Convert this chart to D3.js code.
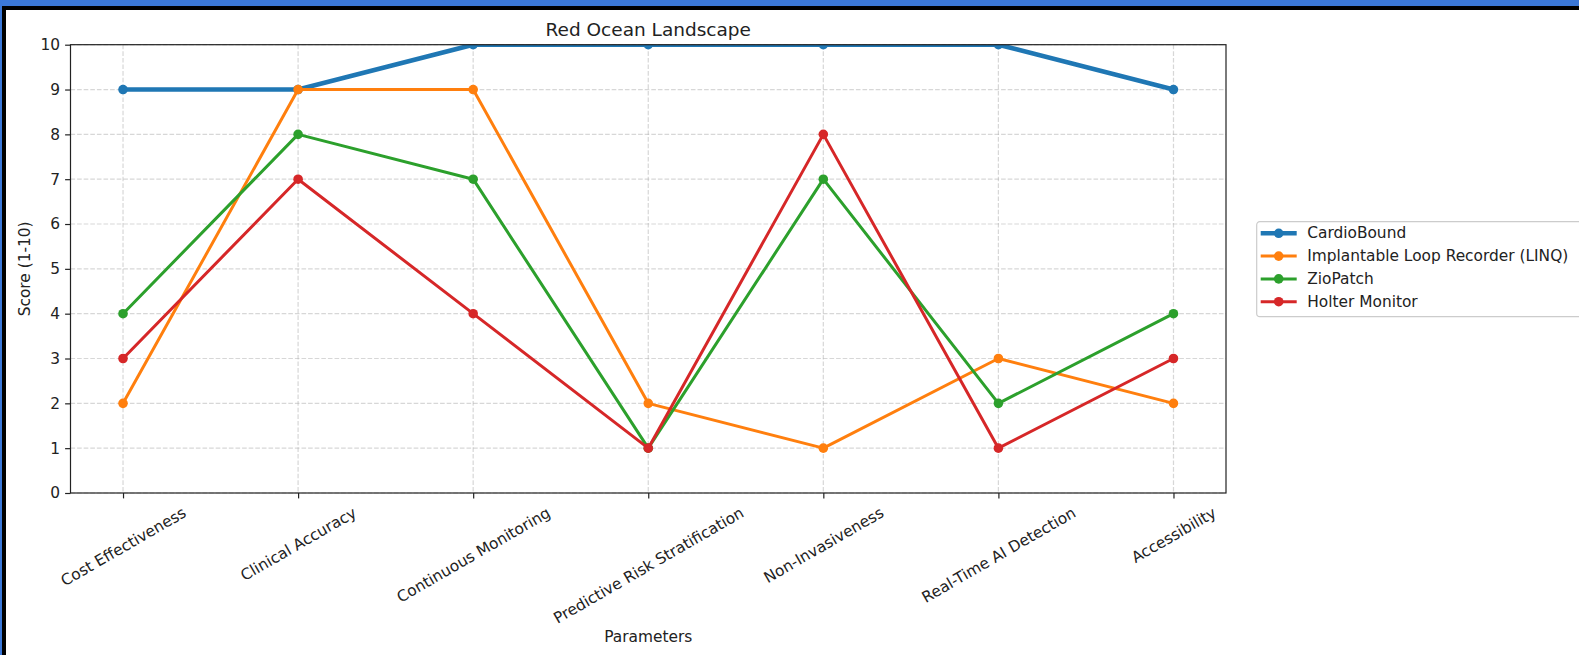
<!DOCTYPE html>
<html>
<head>
<meta charset="utf-8">
<script src="https://cdn.jsdelivr.net/npm/d3@7"></script>
<style>
  body { margin: 0; background: #fff; }
  svg { display: block; font-family: "DejaVu Sans", sans-serif; }
</style>
</head>
<body>
<svg id="target"></svg>
<script>
// Chart data
let categories = ["Cost Effectiveness", "Clinical Accuracy", "Continuous Monitoring",
    "Predictive Risk Stratification", "Non-Invasiveness", "Real-Time AI Detection", "Accessibility"];
let seriesNames = ["CardioBound", "Implantable Loop Recorder (LINQ)", "ZioPatch", "Holter Monitor"];
let cardioBound = [9, 9, 10, 10, 10, 10, 9];
let linq = [2, 9, 9, 2, 1, 3, 2];
let zioPatch = [4, 8, 7, 1, 7, 2, 4];
let holter = [3, 7, 4, 1, 8, 1, 3];
let yTicks = [0, 1, 2, 3, 4, 5, 6, 7, 8, 9, 10];

let colors = ["#1f77b4", "#ff7f0e", "#2ca02c", "#d62728"];
let lineWidths = [4.6, 3, 3, 3];

let W = 1579, H = 655;
let plot = {left: 70.5, right: 1226, top: 44.7, bottom: 493};

function main() {
    let svg = d3.select("#target").attr("width", W).attr("height", H);

    // Page frame: blue band with a black inner edge
    svg.append("rect").attr("width", W).attr("height", H).attr("fill", "#fff");
    svg.append("rect").attr("x", 0).attr("y", 0).attr("width", W).attr("height", 10).attr("fill", "#000");
    svg.append("rect").attr("x", 0).attr("y", 0).attr("width", 6).attr("height", H).attr("fill", "#000");
    svg.append("rect").attr("x", 0).attr("y", 0).attr("width", W).attr("height", 6).attr("fill", "#3b78d8");
    svg.append("rect").attr("x", 0).attr("y", 0).attr("width", 2).attr("height", H).attr("fill", "#3b78d8");

    let x = d3.scalePoint()
        .domain(categories)
        .range([plot.left, plot.right])
        .padding(0.3);

    let y = d3.scaleLinear()
        .domain([0, 10])
        .range([plot.bottom, plot.top]);

    // Grid
    let grid = svg.append("g")
        .attr("stroke", "#b0b0b0")
        .attr("stroke-opacity", 0.5)
        .attr("stroke-width", 1.2)
        .attr("stroke-dasharray", "4.6,2");
    grid.selectAll(".gx").data(categories).enter().append("line")
        .attr("x1", d => x(d)).attr("x2", d => x(d))
        .attr("y1", plot.top).attr("y2", plot.bottom);
    grid.selectAll(".gy").data(yTicks).enter().append("line")
        .attr("x1", plot.left).attr("x2", plot.right)
        .attr("y1", d => y(d)).attr("y2", d => y(d));

    // Lines clipped to the axes area
    svg.append("clipPath").attr("id", "clip")
        .append("rect")
        .attr("x", plot.left).attr("y", plot.top)
        .attr("width", plot.right - plot.left).attr("height", plot.bottom - plot.top);

    let allSeries = [cardioBound, linq, zioPatch, holter];
    let line = d3.line()
        .x((d, i) => x(categories[i]))
        .y(d => y(d));

    let lines = svg.append("g").attr("clip-path", "url(#clip)");
    allSeries.forEach((vals, s) => {
        lines.append("path")
            .attr("d", line(vals))
            .attr("fill", "none")
            .attr("stroke", colors[s])
            .attr("stroke-width", lineWidths[s])
            .attr("stroke-linejoin", "round")
            .attr("stroke-linecap", "round");
        lines.selectAll(".m" + s).data(vals).enter().append("circle")
            .attr("cx", (d, i) => x(categories[i]))
            .attr("cy", d => y(d))
            .attr("r", 4.8)
            .attr("fill", colors[s]);
    });

    // Y axis
    let yAxis = svg.append("g")
        .attr("transform", "translate(" + plot.left + ",0)")
        .call(d3.axisLeft(y).tickValues(yTicks).tickSize(5.4).tickPadding(5))
    yAxis.select(".domain").remove();
    yAxis.selectAll("line").attr("stroke", "#222").attr("stroke-width", 1.2);
    yAxis.selectAll("text")
        .attr("font-family", "DejaVu Sans")
        .attr("font-size", 15.4)
        .attr("fill", "#222");

    // X axis
    let xAxis = svg.append("g")
        .attr("transform", "translate(0," + plot.bottom + ")")
        .call(d3.axisBottom(x).tickSize(5.4).tickPadding(5));
    xAxis.select(".domain").remove();
    xAxis.selectAll("line").attr("stroke", "#222").attr("stroke-width", 1.2);
    xAxis.selectAll("text")
        .attr("font-family", "DejaVu Sans")
        .attr("font-size", 15.4)
        .attr("fill", "#222")
        .attr("dy", null)
        .attr("y", 0)
        .attr("text-anchor", "middle")
        .attr("dominant-baseline", "central")
        .each(function() {
            // rotate around the text centre, keep the rotated box top below the ticks
            let w = this.getComputedTextLength();
            let h = 15.4 * 1.16;
            let boxH = w * Math.sin(Math.PI / 6) + h * Math.cos(Math.PI / 6);
            let cy = 10.8 + boxH / 2;
            d3.select(this).attr("transform", "translate(0," + cy + ") rotate(-30)");
        });

    // Spines
    svg.append("rect")
        .attr("x", plot.left).attr("y", plot.top)
        .attr("width", plot.right - plot.left).attr("height", plot.bottom - plot.top)
        .attr("fill", "none").attr("stroke", "#222").attr("stroke-width", 1.2);

    // Title and axis labels
    svg.append("text")
        .attr("x", (plot.left + plot.right) / 2).attr("y", 35.5)
        .attr("text-anchor", "middle")
        .attr("font-size", 18.5).attr("fill", "#222")
        .text("Red Ocean Landscape");

    svg.append("text")
        .attr("x", (plot.left + plot.right) / 2).attr("y", 642)
        .attr("text-anchor", "middle")
        .attr("font-size", 15.4).attr("fill", "#222")
        .text("Parameters");

    svg.append("text")
        .attr("transform", "translate(30," + ((plot.top + plot.bottom) / 2) + ") rotate(-90)")
        .attr("text-anchor", "middle")
        .attr("font-size", 15.4).attr("fill", "#222")
        .text("Score (1-10)");

    // Legend
    let lg = svg.append("g").attr("transform", "translate(1256.7,221.7)");
    lg.append("rect")
        .attr("width", 340).attr("height", 95).attr("rx", 3)
        .attr("fill", "#fff").attr("fill-opacity", 0.8)
        .attr("stroke", "#cccccc").attr("stroke-width", 1.2);
    seriesNames.forEach((name, s) => {
        let cy = 11.6 + s * 22.8;
        lg.append("line")
            .attr("x1", 4).attr("x2", 40).attr("y1", cy).attr("y2", cy)
            .attr("stroke", colors[s]).attr("stroke-width", lineWidths[s]);
        lg.append("circle").attr("cx", 22).attr("cy", cy).attr("r", 4.8).attr("fill", colors[s]);
        lg.append("text")
            .attr("x", 50.5).attr("y", cy)
            .attr("dominant-baseline", "central")
            .attr("font-size", 15.4).attr("fill", "#222")
            .text(name);
    });
}

main();
</script>
</body>
</html>
